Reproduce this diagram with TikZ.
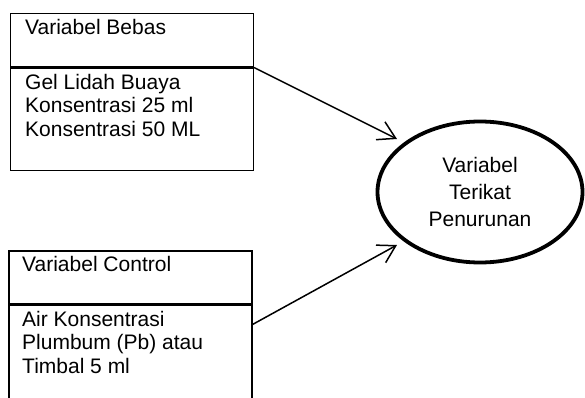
\documentclass[tikz,border=0pt]{standalone}
\usepackage{fontspec}
\setmainfont{Liberation Sans}
\usetikzlibrary{arrows.meta,shapes.geometric}

\begin{document}
\begin{tikzpicture}[x=1pt, y=-1pt,
    every node/.style={font=\fontsize{21pt}{23.3pt}\selectfont},
    box/.style={draw, line width=1.5pt, rectangle, inner sep=0pt, anchor=north west, minimum width=243pt},
    boxtext/.style={inner sep=0pt, anchor=base west, align=left},
    link/.style={line width=1.5pt, -{Straight Barb[length=17pt, width=20pt, line width=1.5pt]}}]
        \clip (0,0) rectangle (585,398);

        % Boxes
        \node (bebasHead) [box, minimum height=53pt] at (9.5,13) {};
        \node (bebasBody) [box, minimum height=102pt] at (bebasHead.south west) {};
        \node (controlHead) [box, minimum height=53pt] at (8,250) {};
        \node (controlBody) [box, minimum height=102pt] at (controlHead.south west) {};

        % Texts (base = last line)
        \node (bebasTitle) [boxtext] at (25,34.5) {Variabel Bebas};
        \node (bebasList) [boxtext] at (25,136) {Gel Lidah Buaya\\Konsentrasi 25 ml\\Konsentrasi 50 ML};
        \node (controlTitle) [boxtext] at (22,271.5) {Variabel Control};
        \node (controlList) [boxtext] at (22,373) {Air Konsentrasi\\Plumbum (Pb) atau\\Timbal 5 ml};

        % Ellipse
        \node (terikat) [draw, ellipse, line width=3.8pt, minimum width=205pt, minimum height=141pt,
            align=center, font=\fontsize{21pt}{27pt}\selectfont] at (480,192) {Variabel\\Terikat\\Penurunan};

        % Arrows
        \coordinate (tipA) at (397,139);
        \coordinate (tipB) at (397,245);
        \draw[link] (bebasHead.south east) -- (tipA);
        \draw[link] ([yshift=-20pt]controlBody.north east) -- (tipB);
    \end{tikzpicture}
\end{document}
